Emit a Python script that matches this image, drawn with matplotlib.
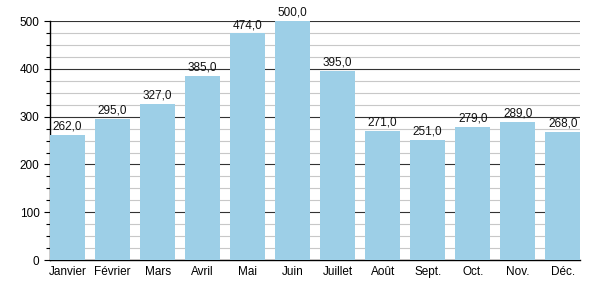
import matplotlib
matplotlib.use('Agg')
import matplotlib.pyplot as plt
from matplotlib.ticker import MultipleLocator

plt.rcParams['font.family'] = ['Liberation Sans', 'DejaVu Sans']

# data
months = ['Janvier', 'Février', 'Mars', 'Avril', 'Mai', 'Juin',
          'Juillet', 'Août', 'Sept.', 'Oct.', 'Nov.', 'Déc.']
values = [262, 295, 327, 385, 474, 500, 395, 271, 251, 279, 289, 268]

fig = plt.figure(figsize=(6, 3), dpi=100)
ax = fig.add_axes([0.0833, 0.133, 0.884, 0.797])

x = range(len(months))
w = 0.78
ax.bar(x, values, width=w, color='#9dcfe7', zorder=3)

for i, v in zip(x, values):
    ax.text(i, v + 5, f'{v:.1f}'.replace('.', ','), ha='center', va='bottom',
            fontsize=8.5, color='#111111', zorder=4)

ax.set_xlim(-w / 2, len(months) - 1 + w / 2)
ax.set_ylim(0, 500)
ax.set_xticks(list(x))
ax.set_xticklabels(months, fontsize=8.5)
ax.yaxis.set_major_locator(MultipleLocator(100))
ax.yaxis.set_minor_locator(MultipleLocator(25))
ax.tick_params(axis='y', labelsize=8.5, length=4, width=0.8)
ax.tick_params(axis='y', which='minor', length=3, width=0.8)
ax.tick_params(axis='x', length=0, pad=4)

ax.grid(axis='y', which='major', color='#333333', linewidth=0.8, zorder=1)
ax.grid(axis='y', which='minor', color='#c8c8c8', linewidth=0.8, zorder=1)

for s in ['top', 'right']:
    ax.spines[s].set_visible(False)
ax.spines['left'].set_linewidth(1)
ax.spines['bottom'].set_linewidth(1)

fig.savefig('out.png')
